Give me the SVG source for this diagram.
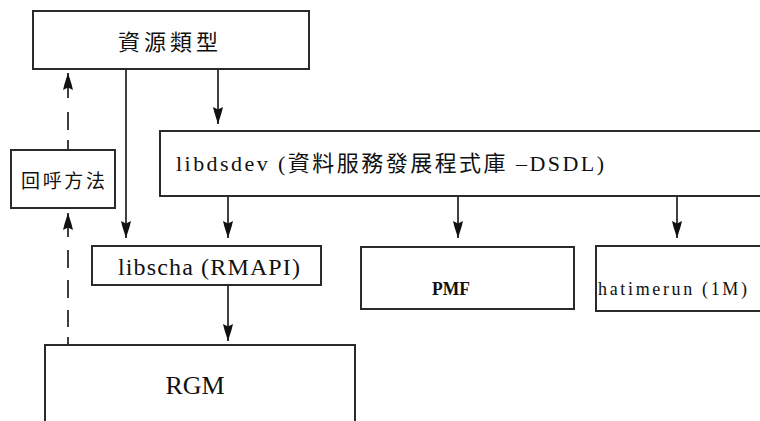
<svg xmlns="http://www.w3.org/2000/svg" width="760" height="421" viewBox="0 0 760 421">
<style>
.box{fill:#fff;stroke:#2a2a2a;stroke-width:2}
.ln{fill:none;stroke:#111;stroke-width:1.6}
.t{font-family:"Liberation Serif","Noto Sans CJK TC",serif;fill:#111}
.c{font-family:"Noto Sans CJK TC","Liberation Sans",sans-serif;fill:#111}
</style>
<defs>
<marker id="ah" markerUnits="userSpaceOnUse" viewBox="0 0 17 11" refX="17" refY="5.5" markerWidth="17" markerHeight="11" orient="auto">
<path d="M0,0.5 L6,2 L17,5.5 L6,9 L0,10.5 L2.5,5.5 z" fill="#111"/>
</marker>
</defs>
<rect width="760" height="421" fill="#fff"/>
<g id="connectors">
<path class="ln" d="M218,69 V124" marker-end="url(#ah)"/>
<path class="ln" d="M126,69 V238" marker-end="url(#ah)"/>
<path class="ln" d="M228,196 V238" marker-end="url(#ah)"/>
<path class="ln" d="M458,196 V238" marker-end="url(#ah)"/>
<path class="ln" d="M677,196 V238" marker-end="url(#ah)"/>
<path class="ln" d="M228,285 V341" marker-end="url(#ah)"/>
<path class="ln" d="M68,150 V73" stroke-dasharray="10 10 18 14 40" marker-end="url(#ah)"/>
<path class="ln" d="M68,345 V213" stroke-dasharray="8 10 17 12 18 12 18 13 40" marker-end="url(#ah)"/>
</g>
<g id="n-resource">
<rect class="box" x="33" y="11" width="276" height="58"/>
<text class="c" x="168" y="50" font-size="22" text-anchor="middle" textLength="100" lengthAdjust="spacing">資源類型</text>
</g>
<g id="n-callback">
<rect class="box" x="11" y="150" width="104" height="58"/>
<text class="c" x="63" y="188" font-size="19" text-anchor="middle" textLength="84" lengthAdjust="spacing">回呼方法</text>
</g>
<g id="n-libdsdev">
<rect class="box" x="160" y="131" width="620" height="65"/>
<text class="t" x="176" y="171" font-size="22" textLength="428" lengthAdjust="spacing">libdsdev (資料服務發展程式庫 –DSDL)</text>
</g>
<g id="n-libscha">
<rect class="box" x="92" y="246" width="229" height="39"/>
<text class="t" x="118" y="275" font-size="24" textLength="182" lengthAdjust="spacing">libscha  (RMAPI)</text>
</g>
<g id="n-pmf">
<rect class="box" x="361" y="247" width="213" height="62"/>
<text class="t" x="451" y="295" font-size="19" text-anchor="middle" font-weight="bold" textLength="38" lengthAdjust="spacingAndGlyphs">PMF</text>
</g>
<g id="n-hatimerun">
<rect class="box" x="596" y="246" width="190" height="65"/>
<text class="t" x="598" y="295" font-size="18" textLength="149" lengthAdjust="spacing">hatimerun  (1M)</text>
</g>
<g id="n-rgm">
<rect class="box" x="45" y="345" width="310" height="90"/>
<text class="t" x="195" y="394" font-size="26" text-anchor="middle">RGM</text>
</g>
</svg>
